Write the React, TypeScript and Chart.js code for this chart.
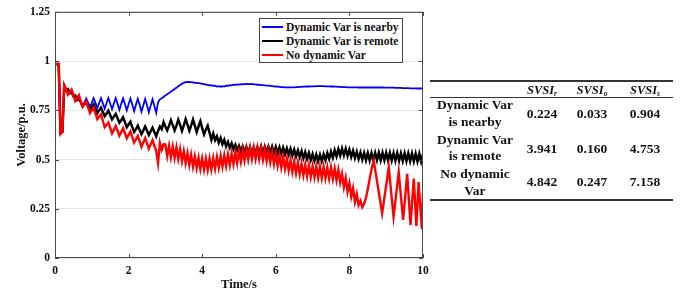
import React, { useEffect, useRef } from "react";
import { Chart, registerables } from "chart.js";

Chart.register(...registerables);

// ---- data ----
const TIME_STEP = 0.05; // sampling interval of the value arrays (s)

const blueNearby = [
  0.985, 0.985, 0.985, 0.635, 0.64, 0.865, 0.85, 0.858, 0.84, 0.845,
  0.825, 0.822, 0.8, 0.812, 0.79, 0.77, 0.79, 0.81, 0.788, 0.766,
  0.788, 0.812, 0.788, 0.762, 0.787, 0.812, 0.786, 0.758, 0.786, 0.813,
  0.785, 0.756, 0.785, 0.812, 0.784, 0.752, 0.783, 0.811, 0.782, 0.75,
  0.781, 0.81, 0.78, 0.746, 0.779, 0.809, 0.778, 0.743, 0.776, 0.808,
  0.776, 0.74, 0.774, 0.806, 0.772, 0.737, 0.79, 0.806, 0.812, 0.818,
  0.826, 0.832, 0.838, 0.845, 0.852, 0.858, 0.865, 0.872, 0.879, 0.885,
  0.89, 0.893, 0.894, 0.894, 0.893, 0.892, 0.89, 0.889, 0.888, 0.887,
  0.885, 0.883, 0.881, 0.879, 0.877, 0.878, 0.874, 0.875, 0.871, 0.873,
  0.87, 0.873, 0.871, 0.875, 0.874, 0.878, 0.877, 0.88, 0.879, 0.882,
  0.881, 0.883, 0.882, 0.884, 0.883, 0.884, 0.883, 0.884, 0.882, 0.882,
  0.88, 0.88, 0.878, 0.878, 0.877, 0.876, 0.875, 0.874, 0.873, 0.872,
  0.871, 0.87, 0.869, 0.868, 0.868, 0.867, 0.867, 0.867, 0.867, 0.867,
  0.867, 0.868, 0.868, 0.869, 0.869, 0.87, 0.87, 0.871, 0.871, 0.872,
  0.872, 0.872, 0.873, 0.873, 0.873, 0.873, 0.873, 0.872, 0.872, 0.872,
  0.871, 0.871, 0.87, 0.87, 0.869, 0.869, 0.868, 0.868, 0.868, 0.867,
  0.867, 0.867, 0.867, 0.867, 0.867, 0.866, 0.866, 0.866, 0.866, 0.866,
  0.866, 0.866, 0.866, 0.866, 0.866, 0.866, 0.866, 0.866, 0.866, 0.865,
  0.865, 0.865, 0.865, 0.865, 0.865, 0.864, 0.864, 0.864, 0.864, 0.863,
  0.863, 0.863, 0.863, 0.862, 0.862, 0.862, 0.862, 0.861, 0.861, 0.861,
  0.861,
];

const blackRemote = [
  0.985, 0.985, 0.985, 0.635, 0.64, 0.87, 0.852, 0.858, 0.838, 0.842,
  0.822, 0.826, 0.805, 0.812, 0.792, 0.771, 0.782, 0.793, 0.772, 0.749,
  0.765, 0.78, 0.758, 0.736, 0.75, 0.764, 0.742, 0.72, 0.734, 0.748,
  0.726, 0.704, 0.718, 0.732, 0.71, 0.687, 0.7, 0.715, 0.69, 0.664,
  0.678, 0.692, 0.665, 0.64, 0.655, 0.672, 0.65, 0.629, 0.648, 0.668,
  0.647, 0.625, 0.644, 0.662, 0.64, 0.618, 0.645, 0.668, 0.655, 0.69,
  0.668, 0.648, 0.672, 0.7, 0.675, 0.648, 0.672, 0.702, 0.676, 0.646,
  0.674, 0.705, 0.677, 0.646, 0.673, 0.703, 0.672, 0.64, 0.668, 0.695,
  0.66, 0.628, 0.652, 0.672, 0.636, 0.6, 0.632, 0.598, 0.618, 0.585,
  0.61, 0.578, 0.6, 0.567, 0.59, 0.56, 0.582, 0.552, 0.575, 0.547,
  0.57, 0.542, 0.567, 0.538, 0.565, 0.535, 0.563, 0.533, 0.562, 0.532,
  0.563, 0.533, 0.565, 0.534, 0.566, 0.535, 0.566, 0.534, 0.565, 0.533,
  0.564, 0.531, 0.562, 0.529, 0.56, 0.527, 0.557, 0.524, 0.555, 0.52,
  0.55, 0.516, 0.546, 0.512, 0.542, 0.507, 0.538, 0.503, 0.533, 0.498,
  0.528, 0.494, 0.525, 0.491, 0.524, 0.492, 0.527, 0.497, 0.533, 0.503,
  0.54, 0.51, 0.547, 0.516, 0.552, 0.52, 0.556, 0.522, 0.555, 0.519,
  0.55, 0.514, 0.545, 0.508, 0.54, 0.503, 0.536, 0.5, 0.534, 0.497,
  0.533, 0.496, 0.533, 0.496, 0.534, 0.497, 0.535, 0.497, 0.535, 0.497,
  0.535, 0.496, 0.534, 0.495, 0.533, 0.494, 0.533, 0.494, 0.532, 0.493,
  0.532, 0.492, 0.531, 0.492, 0.531, 0.491, 0.53, 0.491, 0.53, 0.49,
  0.528,
];

const redNoVar = [
  0.985, 0.985, 0.985, 0.63, 0.64, 0.88, 0.86, 0.83, 0.842, 0.855,
  0.828, 0.798, 0.812, 0.827, 0.797, 0.768, 0.782, 0.796, 0.766, 0.736,
  0.75, 0.764, 0.735, 0.705, 0.718, 0.73, 0.697, 0.664, 0.675, 0.688,
  0.66, 0.633, 0.651, 0.67, 0.645, 0.621, 0.64, 0.659, 0.634, 0.608,
  0.625, 0.642, 0.614, 0.586, 0.603, 0.62, 0.594, 0.565, 0.587, 0.609,
  0.582, 0.555, 0.577, 0.599, 0.57, 0.545, 0.482, 0.585, 0.55, 0.578,
  0.576, 0.517, 0.57, 0.512, 0.566, 0.508, 0.562, 0.502, 0.553, 0.492,
  0.543, 0.482, 0.533, 0.472, 0.524, 0.464, 0.516, 0.457, 0.51, 0.452,
  0.506, 0.449, 0.504, 0.448, 0.505, 0.45, 0.508, 0.454, 0.513, 0.459,
  0.518, 0.464, 0.522, 0.468, 0.526, 0.472, 0.53, 0.477, 0.536, 0.483,
  0.542, 0.489, 0.548, 0.495, 0.554, 0.5, 0.558, 0.503, 0.56, 0.504,
  0.56, 0.503, 0.557, 0.499, 0.552, 0.493, 0.546, 0.486, 0.538, 0.477,
  0.528, 0.468, 0.52, 0.46, 0.513, 0.453, 0.505, 0.445, 0.497, 0.437,
  0.49, 0.431, 0.484, 0.425, 0.478, 0.42, 0.474, 0.416, 0.47, 0.412,
  0.467, 0.41, 0.465, 0.408, 0.463, 0.406, 0.462, 0.405, 0.46, 0.404,
  0.46, 0.402, 0.455, 0.396, 0.448, 0.384, 0.428, 0.36, 0.406, 0.337,
  0.38, 0.312, 0.355, 0.285, 0.325, 0.268, 0.29, 0.258, 0.275, 0.305,
  0.35, 0.4, 0.45,
];

// late, growing oscillation of the red curve (peaks and troughs)
const redTailTimes = [8.66, 8.89, 9.07, 9.2, 9.34, 9.46, 9.57, 9.66, 9.75, 9.82, 9.88, 9.97, 10.0];
const redTailValues = [0.495, 0.227, 0.461, 0.209, 0.436, 0.193, 0.428, 0.168, 0.403, 0.163, 0.386, 0.146, 0.33];

const seriesNames = ["Dynamic Var is nearby", "Dynamic Var is remote", "No dynamic Var"];
const seriesColors = ["#0000ff", "#000000", "#ff0000"];

const xTicks = [0, 2, 4, 6, 8, 10];
const xTickLabels = ["0", "2", "4", "6", "8", "10"];
const yTicks = [0, 0.25, 0.5, 0.75, 1, 1.25];
const yTickLabels = ["0", "0.25", "0.5", "0.75", "1", "1.25"];

const tableSubscripts = ["r", "o", "s"];
const tableRowLabels = [
  ["Dynamic Var", "is nearby"],
  ["Dynamic Var", "is remote"],
  ["No dynamic", "Var"],
];
const svsiR = [0.224, 3.941, 4.842];
const svsiO = [0.033, 0.16, 0.247];
const svsiS = [0.904, 4.753, 7.158];

const FONT = '"Liberation Serif", "Times New Roman", serif';

function toPoints(vals: number[]) {
  return vals.map((y, i) => ({ x: Math.round(i * TIME_STEP * 100) / 100, y }));
}

const boxPlugin = {
  id: "matlabBox",
  afterDatasetsDraw(chart: any) {
    const { ctx, chartArea: a, scales } = chart;
    ctx.save();
    ctx.strokeStyle = "#4a4a4a";
    ctx.lineWidth = 1;
    ctx.strokeRect(a.left + 0.5, a.top + 0.5, a.right - a.left - 1, a.bottom - a.top - 1);
    ctx.beginPath();
    for (const v of xTicks) {
      const x = Math.round(scales.x.getPixelForValue(v)) + 0.5;
      ctx.moveTo(x, a.bottom);
      ctx.lineTo(x, a.bottom - 4);
      ctx.moveTo(x, a.top);
      ctx.lineTo(x, a.top + 4);
    }
    for (const v of yTicks) {
      const y = Math.round(scales.y.getPixelForValue(v)) + 0.5;
      ctx.moveTo(a.left, y);
      ctx.lineTo(a.left + 4, y);
      ctx.moveTo(a.right, y);
      ctx.lineTo(a.right - 4, y);
    }
    ctx.stroke();
    ctx.restore();
  },
};

function LineChart() {
  const ref = useRef<HTMLCanvasElement | null>(null);
  useEffect(() => {
    if (!ref.current) return;
    const redPoints = toPoints(redNoVar).concat(
      redTailTimes.map((x, i) => ({ x, y: redTailValues[i] }))
    );
    const chart = new Chart(ref.current, {
      type: "line",
      data: {
        datasets: [
          {
            label: seriesNames[0],
            data: toPoints(blueNearby),
            borderColor: seriesColors[0],
            borderWidth: 1.8,
            pointRadius: 0,
            tension: 0,
            order: 2,
          },
          {
            label: seriesNames[1],
            data: toPoints(blackRemote),
            borderColor: seriesColors[1],
            borderWidth: 2.5,
            pointRadius: 0,
            tension: 0,
            order: 1,
          },
          {
            label: seriesNames[2],
            data: redPoints,
            borderColor: seriesColors[2],
            borderWidth: 2.4,
            pointRadius: 0,
            tension: 0,
            order: 0,
          },
        ],
      },
      options: {
        animation: false,
        responsive: false,
        devicePixelRatio: 1,
        layout: { padding: { top: 10, right: 17, left: 0, bottom: 0 } },
        plugins: { legend: { display: false }, tooltip: { enabled: false } },
        scales: {
          x: {
            type: "linear",
            min: 0,
            max: 10,
            afterBuildTicks: (s: any) => {
              s.ticks = xTicks.map((v) => ({ value: v }));
            },
            afterFit: (s: any) => {
              s.height = 40;
            },
            ticks: {
              padding: 6,
              color: "#111",
              font: { family: FONT, size: 11.5, weight: "bold" },
              callback: (v: any) => xTickLabels[xTicks.indexOf(Math.round(Number(v) * 100) / 100)] ?? "",
              maxRotation: 0,
            },
            grid: { display: false, drawTicks: false },
            border: { display: false },
            title: {
              display: true,
              text: "Time/s",
              color: "#111",
              font: { family: FONT, size: 12.5, weight: "bold" },
              padding: { top: 0, bottom: 6 },
            },
          },
          y: {
            type: "linear",
            min: 0,
            max: 1.25,
            afterBuildTicks: (s: any) => {
              s.ticks = yTicks.map((v) => ({ value: v }));
            },
            afterFit: (s: any) => {
              s.width = 55;
            },
            ticks: {
              padding: 5,
              color: "#111",
              font: { family: FONT, size: 11.5, weight: "bold" },
              callback: (v: any) => yTickLabels[yTicks.indexOf(Math.round(Number(v) * 100) / 100)] ?? "",
            },
            grid: { color: "#e6e6e6", lineWidth: 1, drawTicks: false },
            border: { display: false },
            title: {
              display: true,
              text: "Voltage/p.u.",
              color: "#111",
              font: { family: FONT, size: 12.5, weight: "bold" },
              padding: { top: 14, bottom: 0 },
            },
          },
        },
      },
      plugins: [boxPlugin],
    } as any);
    return () => chart.destroy();
  }, []);
  return <canvas ref={ref} width={440} height={298} style={{ position: "absolute", left: 0, top: 0 }} />;
}

const legendRowTops = [27, 41, 55];

function Legend() {
  return (
    <div
      style={{
        position: "absolute",
        left: 259,
        top: 18,
        width: 144,
        height: 45,
        border: "1px solid #444",
        boxSizing: "border-box",
        background: "#fff",
      }}
    >
      {seriesNames.map((name, i) => (
        <React.Fragment key={name}>
          <div
            style={{
              position: "absolute",
              left: 2,
              top: legendRowTops[i] - 19 - 1,
              width: 21,
              height: 2,
              background: seriesColors[i],
            }}
          />
          <div
            style={{
              position: "absolute",
              left: 26,
              top: legendRowTops[i] - 19 - 7,
              height: 14,
              lineHeight: "14px",
              whiteSpace: "nowrap",
              fontFamily: FONT,
              fontWeight: "bold",
              fontSize: 11.5,
              color: "#111",
            }}
          >
            {name}
          </div>
        </React.Fragment>
      ))}
    </div>
  );
}

const colCenters = [475, 542, 592, 645];
const labelLineCenters = [
  [105, 122],
  [140, 156],
  [174, 191],
];
const valueCenters = [114, 149, 182];

function TextAt({ cx, cy, children, italic }: any) {
  return (
    <div
      style={{
        position: "absolute",
        left: cx - 60,
        top: cy - 9,
        width: 120,
        height: 18,
        lineHeight: "18px",
        textAlign: "center",
        whiteSpace: "nowrap",
        fontFamily: FONT,
        fontWeight: "bold",
        fontStyle: italic ? "italic" : "normal",
        fontSize: 13.5,
        color: "#111",
      }}
    >
      {children}
    </div>
  );
}

function SvsiTable() {
  const cols = [svsiR, svsiO, svsiS];
  return (
    <>
      <div style={{ position: "absolute", left: 430, top: 80, width: 243, height: 2, background: "#333" }} />
      <div style={{ position: "absolute", left: 430, top: 97, width: 243, height: 1, background: "#333" }} />
      <div style={{ position: "absolute", left: 430, top: 199, width: 243, height: 2, background: "#333" }} />
      {tableSubscripts.map((sub, j) => (
        <TextAt key={"h" + sub} cx={colCenters[j + 1]} cy={90} italic>
          <span style={{ fontSize: 12.5 }}>SVSI</span>
          <span style={{ fontSize: 7.5, verticalAlign: "-2px" }}>{sub}</span>
        </TextAt>
      ))}
      {tableRowLabels.map((lines, r) => (
        <React.Fragment key={"r" + r}>
          <TextAt cx={colCenters[0]} cy={labelLineCenters[r][0]}>{lines[0]}</TextAt>
          <TextAt cx={colCenters[0]} cy={labelLineCenters[r][1]}>{lines[1]}</TextAt>
          {cols.map((col, j) => (
            <TextAt key={"v" + j} cx={colCenters[j + 1]} cy={valueCenters[r]}>
              {col[r].toFixed(3)}
            </TextAt>
          ))}
        </React.Fragment>
      ))}
    </>
  );
}

export default function App() {
  return (
    <div
      style={{
        position: "fixed",
        left: 0,
        top: 0,
        width: 681,
        height: 298,
        background: "#fff",
        overflow: "hidden",
      }}
    >
      <LineChart />
      <Legend />
      <SvsiTable />
    </div>
  );
}
